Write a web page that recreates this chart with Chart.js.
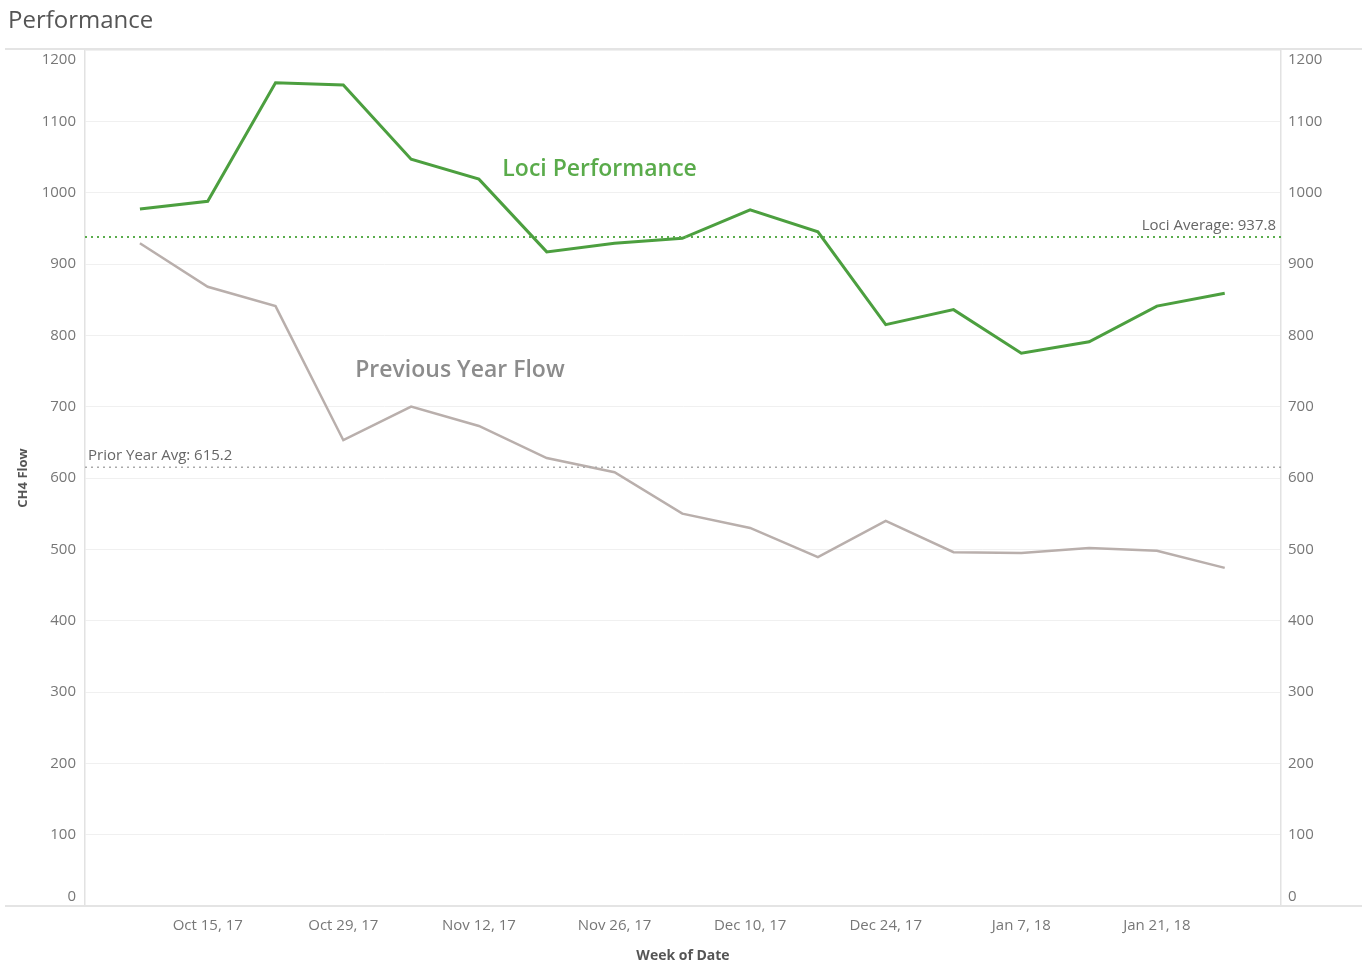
<!DOCTYPE html>
<html lang="en">
<head>
    <meta charset="UTF-8">
    <title>Performance</title>
    <script src="https://cdn.jsdelivr.net/npm/chart.js"></script>
    <style>
        body { margin: 0; background: #fff; }
        #wrap { width: 1362px; height: 964px; }
    </style>
</head>
<body>
    <div id="wrap"><canvas id="perfChart" width="1362" height="964"></canvas></div>

    <script>
        // weekly data, Oct 8 2017 .. Jan 28 2018
        const weeks = ["Oct 8, 17", "Oct 15, 17", "Oct 22, 17", "Oct 29, 17", "Nov 5, 17", "Nov 12, 17",
            "Nov 19, 17", "Nov 26, 17", "Dec 3, 17", "Dec 10, 17", "Dec 17, 17", "Dec 24, 17",
            "Dec 31, 17", "Jan 7, 18", "Jan 14, 18", "Jan 21, 18", "Jan 28, 18"];
        const lociFlow = [977, 988, 1154, 1151, 1047, 1019, 917, 929, 936, 976, 945, 815, 836, 775, 791, 841, 859];
        const priorFlow = [929, 868, 841, 653, 700, 673, 628, 608, 550, 530, 489, 540, 496, 495, 502, 498, 474];
        const lociAvg = 937.8;
        const priorAvg = 615.2;
        const yMin = 0, yMax = 1200;

        const FONT = "'Open Sans', sans-serif";
        const GREEN = "#4c9f3f";
        const GREY_LINE = "#b9afac";

        const toPoints = arr => arr.map((v, i) => ({ x: i, y: v }));

        // edge labels are nudged inside the plot, like the original
        function yLabel(v) {
            if (v === yMax) return ["", String(v)];
            if (v === yMin) return [String(v), ""];
            return String(v);
        }

        const decorations = {
            id: "decorations",
            beforeDraw(chart) {
                const ctx = chart.ctx;
                ctx.save();
                ctx.fillStyle = "#fff";
                ctx.fillRect(0, 0, chart.width, chart.height);
                ctx.restore();
            },
            afterDraw(chart) {
                const ctx = chart.ctx;
                const area = chart.chartArea;
                const x = chart.scales.x, y = chart.scales.y;
                ctx.save();

                // title + separator
                ctx.fillStyle = "#555";
                ctx.font = "24px " + FONT;
                ctx.textBaseline = "middle";
                ctx.textAlign = "left";
                ctx.fillText("Performance", 8, 21);

                ctx.strokeStyle = "#e4e4e4";
                ctx.lineWidth = 2;
                ctx.beginPath();
                ctx.moveTo(5, area.top - 1);
                ctx.lineTo(chart.width, area.top - 1);
                ctx.moveTo(5, area.bottom);
                ctx.lineTo(chart.width, area.bottom);
                ctx.stroke();

                // average reference lines
                const yl = y.getPixelForValue(lociAvg);
                const yp = y.getPixelForValue(priorAvg);
                ctx.setLineDash([2, 4]);
                ctx.lineWidth = 2;
                ctx.strokeStyle = "#5aad4c";
                ctx.beginPath();
                ctx.moveTo(area.left, yl);
                ctx.lineTo(area.right, yl);
                ctx.stroke();
                ctx.lineWidth = 1.5;
                ctx.strokeStyle = "#aaa";
                ctx.beginPath();
                ctx.moveTo(area.left, yp);
                ctx.lineTo(area.right, yp);
                ctx.stroke();
                ctx.setLineDash([]);

                ctx.font = "15px " + FONT;
                ctx.fillStyle = "#666";
                ctx.textBaseline = "alphabetic";
                ctx.textAlign = "right";
                ctx.fillText("Loci Average: " + lociAvg, area.right - 5, yl - 7);
                ctx.textAlign = "left";
                ctx.fillText("Prior Year Avg: " + priorAvg, area.left + 3, yp - 7);

                // series labels
                ctx.font = "600 23px " + FONT;
                ctx.textAlign = "center";
                ctx.textBaseline = "middle";
                ctx.fillStyle = "#5aab4b";
                ctx.fillText("Loci Performance", x.getPixelForValue(6.78), y.getPixelForValue(1033));
                ctx.fillStyle = "#8c8c8c";
                ctx.fillText("Previous Year Flow", x.getPixelForValue(4.72), y.getPixelForValue(751));

                ctx.restore();
            }
        };

        const tickFont = { family: FONT, size: 15, lineHeight: 1.25 };

        new Chart(document.getElementById("perfChart"), {
            type: "line",
            data: {
                datasets: [
                    {
                        label: "Loci Performance",
                        data: toPoints(lociFlow),
                        borderColor: GREEN,
                        borderWidth: 3,
                        pointRadius: 0,
                        tension: 0,
                        yAxisID: "y"
                    },
                    {
                        label: "Previous Year Flow",
                        data: toPoints(priorFlow),
                        borderColor: GREY_LINE,
                        borderWidth: 2.5,
                        pointRadius: 0,
                        tension: 0,
                        yAxisID: "y"
                    }
                ]
            },
            options: {
                responsive: false,
                animation: false,
                layout: { padding: { top: 50, left: 0, right: 0, bottom: 0 } },
                plugins: {
                    legend: { display: false },
                    tooltip: { enabled: false }
                },
                scales: {
                    x: {
                        type: "linear",
                        min: -0.81,
                        max: 16.83,
                        afterBuildTicks(scale) {
                            scale.ticks = weeks.map((w, i) => ({ value: i })).filter(t => t.value % 2 === 1);
                        },
                        afterFit(scale) { scale.height = 58; },
                        grid: { display: false, drawTicks: false },
                        border: { display: false },
                        ticks: {
                            autoSkip: false,
                            maxRotation: 0,
                            padding: 10,
                            color: "#777",
                            font: tickFont,
                            callback: v => weeks[v]
                        },
                        title: {
                            display: true,
                            text: "Week of Date",
                            color: "#555",
                            font: { family: FONT, size: 14, weight: "bold" },
                            padding: { top: 0, bottom: 0 }
                        }
                    },
                    y: {
                        position: "left",
                        min: yMin,
                        max: yMax,
                        afterFit(scale) { scale.width = 85; },
                        grid: { color: "#f0f0f0", lineWidth: 1, drawTicks: false },
                        border: { display: true, color: "#e2e2e2", width: 1.5 },
                        ticks: { stepSize: 100, padding: 9, color: "#777", font: tickFont, callback: yLabel },
                        title: {
                            display: true,
                            text: "CH4 Flow",
                            color: "#555",
                            font: { family: FONT, size: 13, weight: "bold" },
                            padding: { top: 15, bottom: 0 }
                        }
                    },
                    y2: {
                        position: "right",
                        min: yMin,
                        max: yMax,
                        afterFit(scale) { scale.width = 81; },
                        grid: { display: false, drawTicks: false },
                        border: { display: true, color: "#e2e2e2", width: 1.5 },
                        ticks: { stepSize: 100, padding: 7, color: "#777", font: tickFont, callback: yLabel }
                    }
                }
            },
            plugins: [decorations]
        });
    </script>
</body>
</html>
